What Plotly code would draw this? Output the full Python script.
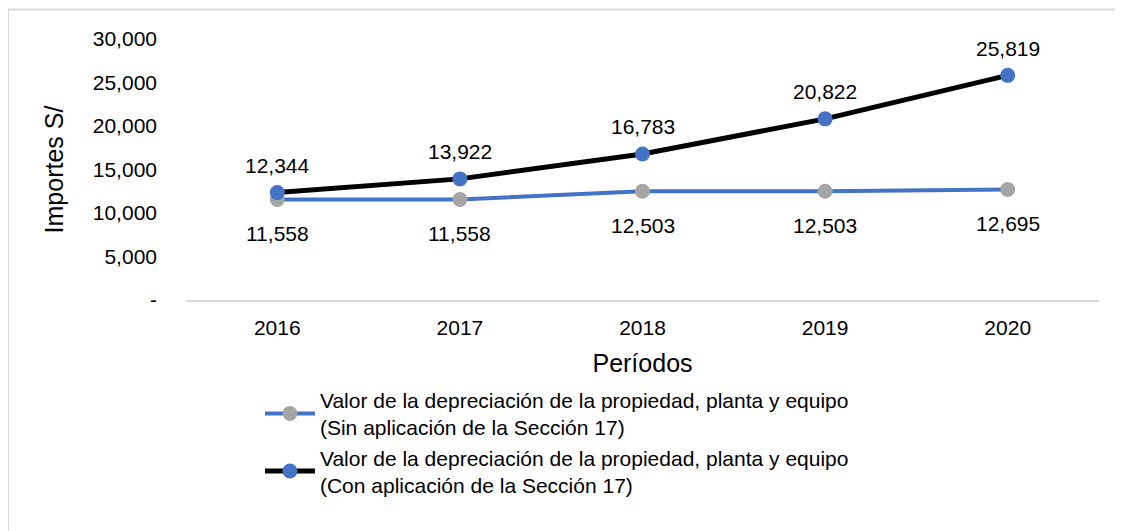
import plotly.graph_objects as go

# Data
PERIODOS = [2016, 2017, 2018, 2019, 2020]
SIN_SECCION = [11558, 11558, 12503, 12503, 12695]
CON_SECCION = [12344, 13922, 16783, 20822, 25819]
Y_TICKS = [0, 5000, 10000, 15000, 20000, 25000, 30000]
Y_TICK_TEXT = ['-', '5,000', '10,000', '15,000', '20,000', '25,000', '30,000']

NAME_SIN = 'Valor de la depreciación de la propiedad, planta y equipo<br>(Sin aplicación de la Sección 17)'
NAME_CON = 'Valor de la depreciación de la propiedad, planta y equipo<br>(Con aplicación de la Sección 17)'

FONT = 'Liberation Sans, Arial, sans-serif'

fig = go.Figure()

fig.add_trace(go.Scatter(
    x=PERIODOS, y=SIN_SECCION, mode='lines+markers', name=NAME_SIN,
    line=dict(color='#4472C4', width=4),
    marker=dict(color='#A5A5A5', size=15),
))
fig.add_trace(go.Scatter(
    x=PERIODOS, y=CON_SECCION, mode='lines+markers', name=NAME_CON,
    line=dict(color='#000000', width=5),
    marker=dict(color='#4472C4', size=15),
))

# data labels (gray series below, black series above)
for x, y in zip(PERIODOS, SIN_SECCION):
    fig.add_annotation(x=x, y=y, text=f'{y:,}', showarrow=False, yshift=-34,
                       font=dict(size=21, color='#000000', family=FONT))
for x, y in zip(PERIODOS, CON_SECCION):
    fig.add_annotation(x=x, y=y, text=f'{y:,}', showarrow=False, yshift=27,
                       font=dict(size=21, color='#000000', family=FONT))

# outer chart border
fig.add_shape(type='rect', xref='paper', yref='paper',
              x0=-0.195, x1=1.3, y0=-2, y1=1.113,
              line=dict(color='#D9D9D9', width=2), layer='below')

fig.update_layout(
    width=1123, height=531,
    margin=dict(l=178, r=32, t=31, b=239, autoexpand=False),
    plot_bgcolor='white', paper_bgcolor='white',
    font=dict(family=FONT, size=21, color='#000000'),
    showlegend=True,
    legend=dict(x=0.081, y=-0.305, xanchor='left', yanchor='top',
                font=dict(size=21, family=FONT), tracegroupgap=0,
                itemwidth=50, bgcolor='rgba(0,0,0,0)'),
    xaxis=dict(
        range=[2015.5, 2020.5], tickvals=PERIODOS, ticktext=[str(p) for p in PERIODOS],
        title=dict(text='Períodos', font=dict(size=25), standoff=16),
        showgrid=False, showline=True, linecolor='#D9D9D9', linewidth=2,
        zeroline=False, ticks='', tickfont=dict(size=21), ticklabelstandoff=8,
    ),
    yaxis=dict(
        title=dict(text='Importes S/', font=dict(size=25), standoff=22),
        range=[0, 30000], tickvals=Y_TICKS, ticktext=Y_TICK_TEXT,
        showgrid=False, zeroline=False, showline=False, ticks='',
        ticklabelstandoff=28, tickfont=dict(size=21),
    ),
)

fig.write_html('out.html')
